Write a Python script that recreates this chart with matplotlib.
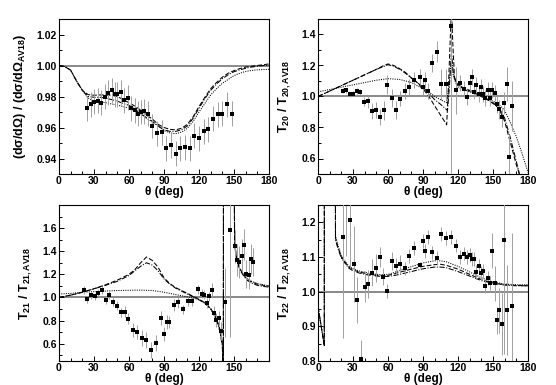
import numpy as np
import matplotlib
matplotlib.use('Agg')
import matplotlib.pyplot as plt
from matplotlib.ticker import MultipleLocator

plt.rcParams['font.family'] = ['Liberation Sans', 'DejaVu Sans']
plt.rcParams['font.weight'] = 'bold'
plt.rcParams['mathtext.fontset'] = 'custom'
plt.rcParams['mathtext.rm'] = 'Liberation Sans:bold'
plt.rcParams['mathtext.it'] = 'Liberation Sans:bold'
plt.rcParams['mathtext.bf'] = 'Liberation Sans:bold'
plt.rcParams['axes.linewidth'] = 0.8

# ---------------- Panel A: cross section ratio ----------------
theta_a = [24, 27, 30, 33, 36, 39, 42, 45, 48, 50, 53, 56, 59, 62, 65, 68, 70, 73, 76,
           80, 84, 88, 92, 96, 100, 104, 108, 112, 116, 120, 124, 128, 132, 136, 140, 144, 148]
ratio_a = [0.9725, 0.9750, 0.9766, 0.9772, 0.9761, 0.9800, 0.9824, 0.9839, 0.9815, 0.9813,
           0.9828, 0.9776, 0.9791, 0.9725, 0.9710, 0.9690, 0.9700, 0.9705, 0.9688, 0.9610,
           0.9563, 0.9568, 0.9467, 0.9484, 0.9430, 0.9465, 0.9471, 0.9467, 0.9546, 0.9531,
           0.9576, 0.9589, 0.9658, 0.9684, 0.9688, 0.9750, 0.9688]
err_a = [0.008] * 37

th_a = [0, 5, 10, 15, 20, 25, 30, 35, 40, 45, 50, 55, 60, 65, 70, 75, 80, 85, 90, 95, 100,
        105, 110, 115, 120, 125, 130, 135, 140, 145, 150, 155, 160, 165, 170, 175, 180]
dash_a = [1.0, 0.9993, 0.997, 0.990, 0.984, 0.9812, 0.9808, 0.981, 0.981, 0.9808, 0.980,
          0.978, 0.976, 0.9738, 0.9712, 0.968, 0.9655, 0.962, 0.960, 0.9588, 0.9585, 0.9595,
          0.962, 0.967, 0.9735, 0.9795, 0.985, 0.989, 0.9925, 0.995, 0.9967, 0.998, 0.999,
          0.9995, 1.0, 1.0005, 1.001]
dashdot_a = [1.0, 0.9993, 0.997, 0.990, 0.984, 0.980, 0.9795, 0.9795, 0.979, 0.978, 0.977,
             0.9755, 0.9743, 0.9718, 0.969, 0.9663, 0.964, 0.961, 0.9585, 0.9575, 0.9575,
             0.9585, 0.961, 0.966, 0.9725, 0.9785, 0.984, 0.988, 0.9915, 0.994, 0.996,
             0.9972, 0.9982, 0.999, 0.9995, 1.0, 1.0]
dot_a = [1.0, 0.9993, 0.997, 0.990, 0.984, 0.979, 0.977, 0.9765, 0.976, 0.9752, 0.9745,
         0.9735, 0.9725, 0.9708, 0.969, 0.966, 0.9635, 0.961, 0.958, 0.9565, 0.956, 0.957,
         0.9595, 0.964, 0.970, 0.9755, 0.981, 0.985, 0.9885, 0.991, 0.9935, 0.995, 0.9962,
         0.9968, 0.9972, 0.9974, 0.9975]

# ---------------- Panel B: T20 ratio ----------------
theta_b = [21.7, 24.2, 27.1, 29.9, 33.1, 36.2, 39.4, 42.5, 45.9, 49.3, 52.8, 56.2, 59.3, 63.0,
           66.5, 70.4, 74.4, 78.4, 82.4, 87.0, 89.8, 92.1, 94.1, 97.8, 101.8, 105.8, 109.8,
           113.8, 118.1, 121.5, 125.5, 127.5, 130.1, 131.8, 133.8, 135.8, 137.8, 139.5, 141.5,
           143.5, 145.5, 147.5, 149.5, 151.5, 153.5, 155.5, 157.5, 159.4, 161.7, 163.7, 166.0]
ratio_b = [1.037, 1.039, 1.015, 1.019, 1.037, 1.028, 0.966, 0.968, 0.905, 0.912, 0.867, 0.910,
           1.077, 0.991, 0.914, 0.987, 1.034, 1.060, 1.108, 1.125, 1.062, 1.105, 1.034, 1.215,
           1.290, 1.080, 1.080, 1.456, 1.039, 1.086, 1.049, 0.998, 1.084, 1.125, 1.032, 1.073,
           1.017, 1.060, 1.017, 0.989, 1.041, 0.991, 1.043, 1.024, 0.951, 0.918, 0.865, 0.959,
           1.082, 0.611, 0.940]
err_b = [0.015, 0.015, 0.015, 0.015, 0.02, 0.02, 0.03, 0.04, 0.05, 0.05, 0.05, 0.06, 0.06, 0.06,
         0.06, 0.05, 0.05, 0.05, 0.05, 0.05, 0.05, 0.05, 0.05, 0.06, 0.07, 0.10, 0.10, 1.2,
         0.15, 0.05, 0.05, 0.05, 0.05, 0.05, 0.05, 0.05, 0.05, 0.05, 0.05, 0.05, 0.05, 0.05,
         0.05, 0.05, 0.06, 0.06, 0.06, 0.07, 0.11, 0.15, 0.16]

th_b_dash = [0, 10, 20, 30, 40, 50, 55, 60, 65, 70, 75, 80, 85, 90, 95, 100, 105, 108, 110.3,
             112, 113.5, 114.4, 115.5, 117, 118, 120, 125, 130, 135, 140, 145, 150, 155, 160,
             165, 170, 173, 176]
dash_b = [1.0, 1.035, 1.07, 1.105, 1.14, 1.175, 1.195, 1.21, 1.20, 1.18, 1.155, 1.12, 1.09,
          1.05, 1.0, 0.94, 0.88, 0.845, 0.817, 1.1, 1.4, 1.56, 1.35, 1.12, 1.10, 1.07, 1.05,
          1.035, 1.02, 1.0, 0.98, 0.955, 0.925, 0.84, 0.70, 0.56, 0.49, 0.40]
th_b_dd = [0, 10, 20, 30, 40, 50, 55, 60, 65, 70, 75, 80, 85, 90, 95, 100, 105, 108, 111,
           112.5, 114.4, 116, 118, 120, 125, 130, 140, 150, 155, 160, 165, 170, 175]
dashdot_b = [1.0, 1.035, 1.07, 1.105, 1.14, 1.175, 1.19, 1.205, 1.195, 1.175, 1.15, 1.12,
             1.09, 1.06, 1.02, 0.98, 0.95, 0.93, 0.91, 1.05, 1.28, 1.15, 1.10, 1.075, 1.055,
             1.04, 1.005, 0.96, 0.93, 0.86, 0.73, 0.58, 0.43]
th_b_dot = [0, 10, 20, 30, 40, 50, 60, 70, 80, 90, 95, 100, 105, 110, 112, 114.4, 116, 118,
            120, 130, 140, 150, 155, 160, 165, 170, 175, 180]
dot_b = [1.03, 1.045, 1.06, 1.075, 1.09, 1.105, 1.115, 1.11, 1.09, 1.05, 1.03, 1.0, 0.98,
         0.96, 1.05, 1.25, 1.13, 1.09, 1.06, 1.03, 1.0, 0.97, 0.95, 0.91, 0.83, 0.74, 0.63, 0.51]

# ---------------- Panel C: T21 ratio ----------------
theta_c = [21, 24, 27.4, 30.6, 33.4, 36.6, 40, 43.1, 46.6, 49.7, 52.9, 56.3, 59.4, 63.4, 66.9,
           70.9, 74.6, 78.6, 82.9, 87.4, 90.3, 92.3, 94.3, 98.3, 102.3, 106.3, 110.3, 114.3,
           118.9, 122.3, 124.6, 126.9, 128.9, 130.9, 132.9, 134.9, 136.9, 138.9, 142, 146.9,
           150.9, 152.6, 154.6, 156.6, 158.6, 160.6, 162.6, 164.6, 166.6]
ratio_c = [1.067, 0.983, 1.017, 1.009, 1.041, 1.067, 0.977, 1.023, 0.962, 0.930, 0.870, 0.878,
           0.817, 0.722, 0.704, 0.649, 0.629, 0.548, 0.603, 0.823, 0.687, 0.788, 0.788, 0.936,
           0.957, 0.896, 0.965, 0.965, 1.070, 1.032, 1.023, 0.951, 1.009, 1.064, 0.867, 0.806,
           0.823, 0.710, 0.957, 1.585, 1.441, 1.325, 1.307, 1.362, 1.458, 1.203, 1.197, 1.336,
           1.304]
err_c = [0.035, 0.03, 0.03, 0.03, 0.03, 0.035, 0.035, 0.035, 0.04, 0.04, 0.04, 0.045, 0.05,
         0.06, 0.06, 0.07, 0.07, 0.07, 0.07, 0.06, 0.06, 0.06, 0.05, 0.05, 0.05, 0.04, 0.04,
         0.04, 0.04, 0.04, 0.04, 0.04, 0.04, 0.06, 0.06, 0.06, 0.06, 0.08, 0.30, 0.93, 0.14,
         0.14, 0.14, 0.14, 0.13, 0.12, 0.12, 0.13, 0.12]

th_c = [0, 10, 20, 30, 40, 50, 60, 65, 70, 75, 80, 85, 90, 95, 100, 105, 110, 115, 120, 125,
        130, 135, 138, 140, 140.9, 141.0, 145, 149.8, 150.5, 151.5, 153, 155, 158, 161, 165,
        170, 175, 180]
dash_c = [1.0, 1.02, 1.045, 1.075, 1.11, 1.15, 1.20, 1.24, 1.30, 1.35, 1.32, 1.26, 1.17, 1.12,
          1.085, 1.06, 1.035, 1.01, 0.985, 0.955, 0.905, 0.82, 0.72, 0.60, 0.30, 3.0, np.nan,
          3.0, 1.50, 1.40, 1.31, 1.25, 1.20, 1.16, 1.135, 1.115, 1.105, 1.098]
dashdot_c = [1.0, 1.02, 1.045, 1.075, 1.105, 1.14, 1.19, 1.23, 1.27, 1.30, 1.28, 1.23, 1.16,
             1.115, 1.08, 1.055, 1.03, 1.005, 0.98, 0.95, 0.90, 0.81, 0.70, 0.58, 0.30, 3.0,
             np.nan, 3.0, 1.48, 1.38, 1.30, 1.24, 1.19, 1.15, 1.125, 1.105, 1.095, 1.09]
dot_c = [1.03, 1.035, 1.045, 1.05, 1.055, 1.06, 1.062, 1.063, 1.063, 1.062, 1.06, 1.053, 1.045,
         1.035, 1.025, 1.015, 1.005, 0.995, 0.98, 0.95, 0.90, 0.82, 0.72, 0.62, 0.30, 3.0,
         np.nan, 3.0, 1.46, 1.37, 1.30, 1.25, 1.20, 1.165, 1.14, 1.12, 1.11, 1.10]

# ---------------- Panel D: T22 ratio ----------------
theta_d = [21.7, 24.2, 27.4, 31.1, 33.7, 36.9, 40.3, 42.8, 46.2, 49.3, 52.8, 55.9, 59.3, 63.3,
           66.7, 70.5, 74.4, 78.4, 82.4, 87.0, 89.8, 92.1, 94.1, 97.8, 101.8, 105.8, 109.8,
           113.8, 118.1, 121.5, 125.5, 127.5, 130.1, 131.8, 133.8, 135.8, 137.8, 139.5, 141.5,
           143.5, 145.5, 147.5, 149.5, 151.5, 153.5, 155.5, 157.5, 159.4, 161.7, 166.0]
ratio_d = [1.157, 1.252, 1.208, 1.080, 0.976, 0.807, 1.014, 1.023, 1.055, 1.068, 1.100, 1.043,
           1.003, 1.088, 1.073, 1.080, 1.067, 1.104, 1.127, 1.077, 1.146, 1.117, 1.158, 1.113,
           1.096, 1.166, 1.156, 1.157, 1.133, 1.100, 1.110, 1.099, 1.105, 1.095, 1.094, 1.056,
           1.074, 1.055, 1.059, 1.015, 1.039, 1.026, 1.118, 1.024, 0.917, 0.946, 0.906, 1.149,
           0.947, 0.960]
err_d = [0.29, 0.15, 0.14, 0.11, 0.065, 0.055, 0.045, 0.04, 0.04, 0.04, 0.03, 0.025, 0.02, 0.025,
         0.025, 0.025, 0.02, 0.02, 0.02, 0.01, 0.02, 0.02, 0.02, 0.02, 0.02, 0.02, 0.02, 0.02,
         0.02, 0.02, 0.02, 0.02, 0.02, 0.02, 0.02, 0.02, 0.02, 0.02, 0.02, 0.02, 0.02, 0.02,
         0.05, 0.05, 0.04, 0.065, 0.09, 0.33, 0.13, 0.21]

th_d = [0, 5.4, 5.5, 9, 14.5, 15, 17, 20, 26, 30, 35, 43, 50, 55, 60, 66, 70, 80, 90, 100, 105,
        110, 120, 130, 140, 150, 160, 170, 180]
dash_d = [0.957, 0.845, 2.0, np.nan, 2.0, 1.155, 1.13, 1.10, 1.072, 1.063, 1.057, 1.051, 1.047,
          1.046, 1.047, 1.052, 1.056, 1.065, 1.073, 1.078, 1.079, 1.076, 1.065, 1.05, 1.035,
          1.025, 1.02, 1.018, 1.017]
dashdot_d = [0.957, 0.845, 2.0, np.nan, 2.0, 1.15, 1.125, 1.097, 1.069, 1.06, 1.054, 1.048,
             1.045, 1.044, 1.044, 1.047, 1.05, 1.058, 1.066, 1.071, 1.071, 1.069, 1.058, 1.045,
             1.032, 1.024, 1.019, 1.017, 1.017]
dot_d = [0.957, 0.845, 2.0, np.nan, 2.0, 1.16, 1.135, 1.103, 1.075, 1.066, 1.06, 1.054, 1.05,
         1.049, 1.05, 1.056, 1.061, 1.072, 1.083, 1.089, 1.089, 1.086, 1.073, 1.057, 1.04,
         1.028, 1.022, 1.02, 1.02]

# ---------------- drawing ----------------
W, H = 556, 385
fig = plt.figure(figsize=(W / 100, H / 100), dpi=100)
ax_a = fig.add_axes([59 / W, 1 - 174 / H, 210 / W, 155 / H])
ax_b = fig.add_axes([318 / W, 1 - 174 / H, 210 / W, 155 / H])
ax_c = fig.add_axes([59 / W, 1 - 361 / H, 210 / W, 156 / H])
ax_d = fig.add_axes([318 / W, 1 - 361 / H, 210 / W, 156 / H])

DASH = (0, (4.5, 2))
DASHDOT = (0, (5, 1.5, 1, 1.5))
DOT = (0, (1, 1.2))


def draw(ax, th_dash, dash, th_dd, dd, th_dot, dot, x, y, e):
    ax.axhline(1.0, color='#6a6a6a', lw=1.1, zorder=1)
    ax.plot(th_dash, dash, color='k', lw=0.75, ls=DASH, zorder=2)
    ax.plot(th_dd, dd, color='k', lw=0.75, ls=DASHDOT, zorder=2)
    ax.plot(th_dot, dot, color='k', lw=0.75, ls=DOT, zorder=2)
    ax.errorbar(x, y, yerr=e, fmt='s', color='k', ms=3.3, mew=0, ecolor='#a0a0a0',
                elinewidth=0.7, capsize=1.5, capthick=0.6, zorder=3)
    ax.tick_params(which='both', direction='in', top=False, right=False,
                   labelsize=7.5, width=0.7, pad=1.5)
    ax.tick_params(which='major', length=3.5)
    ax.tick_params(which='minor', length=2)
    ax.xaxis.set_minor_locator(MultipleLocator(10))
    ax.set_xlim(0, 180)
    ax.set_xlabel('θ (deg)', fontsize=8.5, fontweight='bold', labelpad=0)


draw(ax_a, th_a, dash_a, th_a, dashdot_a, th_a, dot_a, theta_a, ratio_a, err_a)
ax_a.set_ylim(0.93, 1.03)
ax_a.set_yticks([0.94, 0.96, 0.98, 1.00, 1.02])
ax_a.yaxis.set_minor_locator(MultipleLocator(0.01))
ax_a.set_xticks([0, 30, 60, 90, 120, 150, 180])
ax_a.set_ylabel('(dσ/dΩ) / (dσ/dΩ$_{AV18}$)', fontsize=9, fontweight='bold', labelpad=6)

draw(ax_b, th_b_dash, dash_b, th_b_dd, dashdot_b, th_b_dot, dot_b, theta_b, ratio_b, err_b)
ax_b.set_ylim(0.5, 1.5)
ax_b.set_yticks([0.6, 0.8, 1.0, 1.2, 1.4])
ax_b.yaxis.set_minor_locator(MultipleLocator(0.1))
ax_b.set_xticks([0, 30, 60, 90, 120, 150, 180])
ax_b.set_ylabel('T$_{20}$ / T$_{20,AV18}$', fontsize=9, fontweight='bold', labelpad=6)

draw(ax_c, th_c, dash_c, th_c, dashdot_c, th_c, dot_c, theta_c, ratio_c, err_c)
ax_c.set_ylim(0.45, 1.8)
ax_c.set_yticks([0.6, 0.8, 1.0, 1.2, 1.4, 1.6])
ax_c.yaxis.set_minor_locator(MultipleLocator(0.1))
ax_c.set_xticks([0, 30, 60, 90, 120, 150])
ax_c.set_ylabel('T$_{21}$ / T$_{21,AV18}$', fontsize=9, fontweight='bold', labelpad=6)

draw(ax_d, th_d, dash_d, th_d, dashdot_d, th_d, dot_d, theta_d, ratio_d, err_d)
ax_d.set_ylim(0.8, 1.25)
ax_d.set_yticks([0.8, 0.9, 1.0, 1.1, 1.2])
ax_d.yaxis.set_minor_locator(MultipleLocator(0.05))
ax_d.set_xticks([0, 30, 60, 90, 120, 150, 180])
ax_d.set_ylabel('T$_{22}$ / T$_{22,AV18}$', fontsize=9, fontweight='bold', labelpad=6)

for ax in (ax_a, ax_b, ax_c, ax_d):
    for lab in ax.get_xticklabels() + ax.get_yticklabels():
        lab.set_fontweight('bold')

fig.savefig('out.png', dpi=100)
